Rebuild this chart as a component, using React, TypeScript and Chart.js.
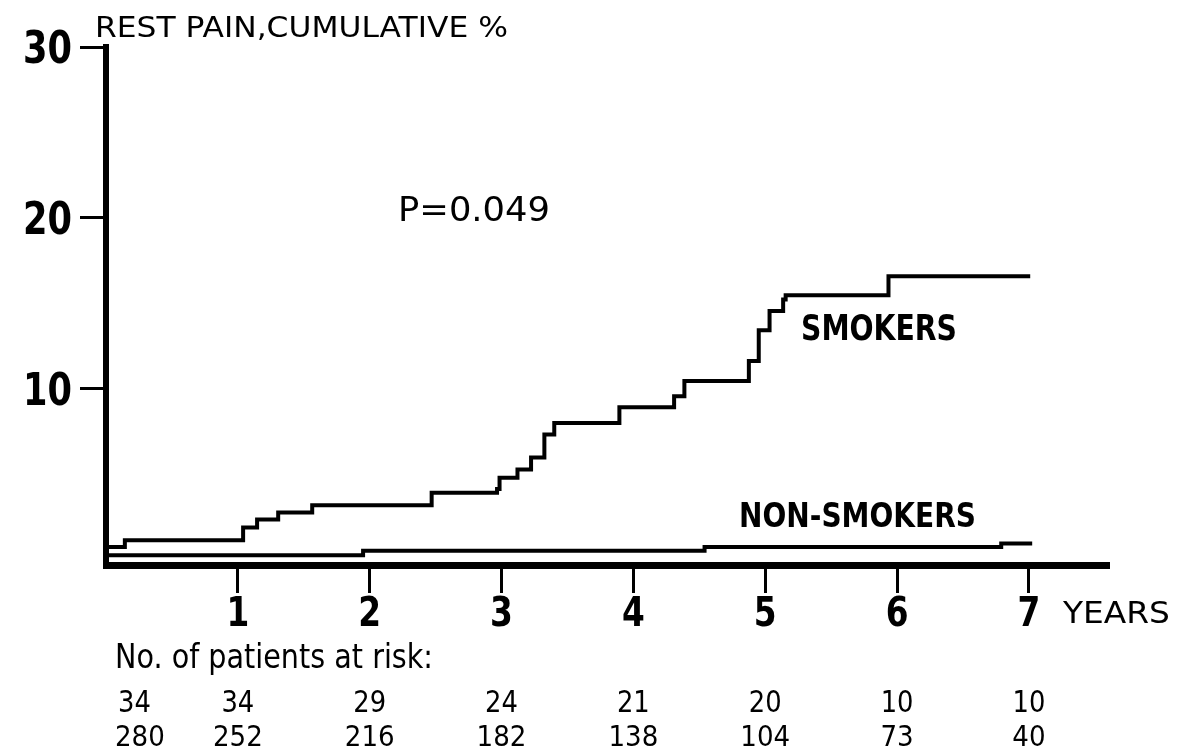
import React, { useEffect, useRef } from "react";
import { Chart, registerables } from "chart.js";

Chart.register(...registerables);

// ---- Data ----
const yearTicks = [1, 2, 3, 4, 5, 6, 7];
const pctTicks = [10, 20, 30];

// Smokers: time of each step (years) and cumulative % after the step
const smokersYears = [0, 0.143, 1.04, 1.146, 1.306, 1.564, 2.47, 2.966, 2.985, 3.121, 3.224, 3.325, 3.4, 3.894, 4.309, 4.387, 4.876, 4.951, 5.033, 5.136, 5.155, 5.935, 7.01];
const smokersPct = [0.76, 1.15, 1.89, 2.36, 2.77, 3.2, 3.92, 4.15, 4.8, 5.29, 5.99, 7.33, 8.01, 8.93, 9.57, 10.47, 11.64, 13.43, 14.56, 15.23, 15.48, 16.59, 16.59];

// Non-smokers
const nonSmokersYears = [0, 1.95, 4.54, 6.79, 7.025];
const nonSmokersPct = [0.27, 0.53, 0.76, 0.96, 0.96];

// Patients at risk, at years 0..7
const riskYears = [0, 1, 2, 3, 4, 5, 6, 7];
const atRiskSmokers = [34, 34, 29, 24, 21, 20, 10, 10];
const atRiskNonSmokers = [280, 252, 216, 182, 138, 104, 73, 40];

const titleText = "REST PAIN,CUMULATIVE %";
const pText = "P=0.049";
const smokersLabel = "SMOKERS";
const nonSmokersLabel = "NON-SMOKERS";
const xUnitLabel = "YEARS";
const riskTitle = "No. of patients at risk:";

const FONT = '"DejaVu Sans", "Liberation Sans", sans-serif';

function drawScaled(
  ctx: CanvasRenderingContext2D,
  text: string,
  x: number,
  y: number,
  font: string,
  sx: number,
  align: "left" | "center" | "right"
) {
  ctx.save();
  ctx.font = font;
  ctx.textAlign = "left";
  ctx.textBaseline = "alphabetic";
  const w = ctx.measureText(text).width * sx;
  let left = x;
  if (align === "center") left = x - w / 2;
  else if (align === "right") left = x - w;
  ctx.translate(left, y);
  ctx.scale(sx, 1);
  ctx.fillText(text, 0, 0);
  ctx.restore();
}

function drawFit(
  ctx: CanvasRenderingContext2D,
  text: string,
  left: number,
  y: number,
  font: string,
  width: number
) {
  ctx.save();
  ctx.font = font;
  const w = ctx.measureText(text).width;
  drawScaled(ctx, text, left, y, font, width / w, "left");
  ctx.restore();
}

const textPlugin = {
  id: "textPlugin",
  afterDraw(chart: any) {
    const ctx: CanvasRenderingContext2D = chart.ctx;
    const xs = chart.scales.x;
    const ys = chart.scales.y;
    ctx.save();
    ctx.fillStyle = "#000";

    // y tick labels
    pctTicks.forEach((v) => {
      const py = ys.getPixelForValue(v);
      drawScaled(ctx, String(v), ys.right - 34, py + 16, `bold 44px ${FONT}`, 0.8, "right");
    });
    // x tick labels
    yearTicks.forEach((v) => {
      const px = xs.getPixelForValue(v);
      drawScaled(ctx, String(v), px, xs.top + 61, `bold 41px ${FONT}`, 0.8, "center");
    });
    // unit label
    drawFit(ctx, xUnitLabel, xs.getPixelForValue(7) + 34, xs.top + 58, `31px ${FONT}`, 107);

    // title
    drawFit(ctx, titleText, 95, 37, `29px ${FONT}`, 413);
    // p value
    drawFit(ctx, pText, 398, 221, `33px ${FONT}`, 152);
    // curve labels
    drawFit(ctx, smokersLabel, 801, 340, `bold 36px ${FONT}`, 156);
    drawFit(ctx, nonSmokersLabel, 739, 527, `bold 34px ${FONT}`, 237);

    // patients at risk
    drawFit(ctx, riskTitle, 115, 668, `34px ${FONT}`, 318);
    riskYears.forEach((t, i) => {
      const px = xs.getPixelForValue(t);
      if (i === 0) {
        drawScaled(ctx, String(atRiskSmokers[i]), xs.left + 12, 712, `30px ${FONT}`, 0.86, "left");
        drawScaled(ctx, String(atRiskNonSmokers[i]), xs.left + 9, 746, `29px ${FONT}`, 0.9, "left");
      } else {
        drawScaled(ctx, String(atRiskSmokers[i]), px, 712, `30px ${FONT}`, 0.86, "center");
        drawScaled(ctx, String(atRiskNonSmokers[i]), px, 746, `29px ${FONT}`, 0.9, "center");
      }
    });
    ctx.restore();
  },
};

export default function App() {
  const canvasRef = useRef<HTMLCanvasElement | null>(null);

  useEffect(() => {
    const canvas = canvasRef.current;
    if (!canvas) return;
    const chart = new Chart(canvas, {
      type: "line",
      data: {
        datasets: [
          {
            label: "Smokers",
            data: smokersYears.map((t, i) => ({ x: t, y: smokersPct[i] })),
            stepped: true,
            borderColor: "#000",
            borderWidth: 4,
            pointRadius: 0,
            fill: false,
          },
          {
            label: "Non-smokers",
            data: nonSmokersYears.map((t, i) => ({ x: t, y: nonSmokersPct[i] })),
            stepped: true,
            borderColor: "#000",
            borderWidth: 4,
            pointRadius: 0,
            fill: false,
          },
        ],
      },
      options: {
        animation: false,
        responsive: false,
        maintainAspectRatio: false,
        layout: { padding: { left: 0, top: 47, right: 81, bottom: 0 } },
        plugins: {
          legend: { display: false },
          tooltip: { enabled: false },
        },
        scales: {
          x: {
            type: "linear",
            position: "bottom",
            min: 0,
            max: 7.6,
            afterBuildTicks: (s: any) => {
              s.ticks = yearTicks.map((v) => ({ value: v }));
            },
            afterFit: (s: any) => {
              s.height = 185;
            },
            ticks: { display: false },
            grid: {
              display: true,
              drawOnChartArea: false,
              drawTicks: true,
              tickLength: 28,
              lineWidth: 3,
              color: "#000",
            },
            border: { display: true, color: "#000", width: 7 },
          },
          y: {
            type: "linear",
            position: "left",
            min: -0.3,
            max: 30,
            afterBuildTicks: (s: any) => {
              s.ticks = pctTicks.map((v) => ({ value: v }));
            },
            afterFit: (s: any) => {
              s.width = 106;
            },
            ticks: { display: false },
            grid: {
              display: true,
              drawOnChartArea: false,
              drawTicks: true,
              tickLength: 26,
              lineWidth: 3,
              color: "#000",
            },
            border: { display: true, color: "#000", width: 6 },
          },
        },
      },
      plugins: [textPlugin],
    });
    return () => chart.destroy();
  }, []);

  return (
    <div style={{ position: "fixed", left: 0, top: 0, width: 1189, height: 750, background: "#fff" }}>
      <canvas ref={canvasRef} width={1189} height={750} style={{ width: 1189, height: 750, display: "block" }} />
    </div>
  );
}
